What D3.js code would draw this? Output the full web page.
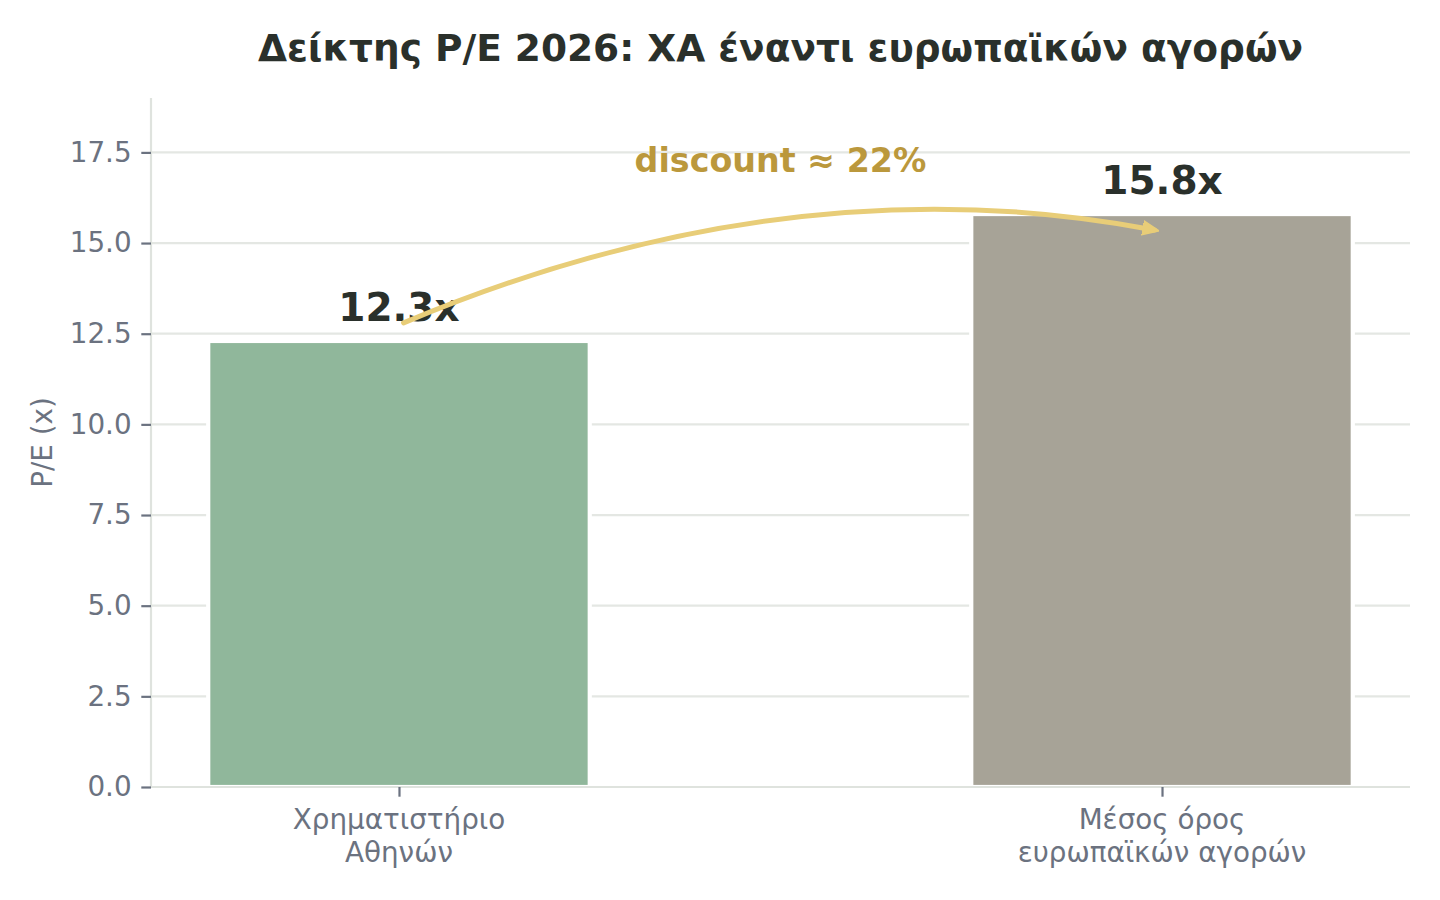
<!DOCTYPE html>
<meta charset="utf-8">
<style>
    body { margin: 0; background: #fff; }
    text { font-family: "DejaVu Sans", sans-serif; }
</style>
<svg width="1440" height="900"></svg>
<script src="https://cdn.jsdelivr.net/npm/d3@7"></script>
<script>

    // data
    var categories = ["Χρηματιστήριο\nΑθηνών", "Μέσος όρος\nευρωπαϊκών αγορών"];
    var peValues = [12.3, 15.8];
    var barColors = ["#90b79b", "#a7a397"];
    var yTicks = [0, 2.5, 5, 7.5, 10, 12.5, 15, 17.5];
    var titleText = "Δείκτης P/E 2026: ΧΑ έναντι ευρωπαϊκών αγορών";
    var yLabel = "P/E (x)";
    var discountText = "discount ≈ 22%";

    var svg = d3.select("svg"),
        plotLeft = 151, plotRight = 1410, plotTop = 98, plotBottom = 787;

    // category positions 0 and 1, bar width 0.5, matplotlib-like margins
    var x = d3.scaleLinear().domain([-0.325, 1.325]).range([plotLeft, plotRight]);
    var y = d3.scaleLinear().domain([0, 19]).range([plotBottom, plotTop]);

    var tickColor = "#6b7280", dark = "#2a302b";

    // grid
    svg.append("g").selectAll("line")
        .data(yTicks)
        .enter().append("line")
        .attr("x1", plotLeft).attr("x2", plotRight)
        .attr("y1", function(d) { return y(d); })
        .attr("y2", function(d) { return y(d); })
        .attr("stroke", "#e4e7e3")
        .attr("stroke-width", 2.2);

    // bars
    svg.append("g").selectAll("rect")
        .data(peValues)
        .enter().append("rect")
        .attr("x", function(d, i) { return x(i - 0.25); })
        .attr("width", x(0.5) - x(0))
        .attr("y", function(d) { return y(d); })
        .attr("height", function(d) { return y(0) - y(d); })
        .attr("fill", function(d, i) { return barColors[i]; })
        .attr("stroke", "#fff")
        .attr("stroke-width", 4.2);

    // spines
    svg.append("line").attr("x1", plotLeft).attr("x2", plotLeft).attr("y1", plotTop).attr("y2", plotBottom)
        .attr("stroke", "#dfe3de").attr("stroke-width", 2.2);
    svg.append("line").attr("x1", plotLeft).attr("x2", plotRight).attr("y1", plotBottom).attr("y2", plotBottom)
        .attr("stroke", "#dfe3de").attr("stroke-width", 2.2);

    // y axis
    var yAxis = d3.axisLeft(y).tickValues(yTicks).tickFormat(d3.format(".1f"))
        .tickSize(9.7).tickPadding(9.7);
    var gy = svg.append("g").attr("transform", "translate(" + plotLeft + ",0)").call(yAxis);
    gy.select(".domain").remove();
    gy.selectAll("line").attr("stroke", tickColor).attr("stroke-width", 2.2);
    gy.selectAll("text").attr("fill", tickColor)
        .style("font-size", "27.8px").attr("font-family", "DejaVu Sans");

    // x axis
    var xAxis = d3.axisBottom(x).tickValues([0, 1]).tickFormat("")
        .tickSize(9.7);
    var gx = svg.append("g").attr("transform", "translate(0," + plotBottom + ")").call(xAxis);
    gx.select(".domain").remove();
    gx.selectAll("line").attr("stroke", tickColor).attr("stroke-width", 2.2);

    svg.append("g").selectAll("text")
        .data(categories)
        .enter().append("text")
        .attr("text-anchor", "middle")
        .attr("fill", tickColor)
        .style("font-size", "27.8px")
        .each(function(d, i) {
            var t = d3.select(this);
            d.split("\n").forEach(function(line, k) {
                t.append("tspan").attr("x", x(i)).attr("y", 829 + k * 33.4).text(line);
            });
        });

    // y label
    svg.append("text")
        .attr("transform", "translate(52," + ((plotTop + plotBottom) / 2) + ") rotate(-90)")
        .attr("text-anchor", "middle")
        .attr("fill", tickColor)
        .style("font-size", "27.8px")
        .text(yLabel);

    // value labels
    svg.append("g").selectAll("text")
        .data(peValues)
        .enter().append("text")
        .attr("x", function(d, i) { return x(i); })
        .attr("y", function(d) { return y(d + 0.3) - 9; })
        .attr("text-anchor", "middle")
        .attr("fill", dark)
        .style("font-size", "39px").style("font-weight", "bold")
        .text(function(d) { return d3.format(".1f")(d) + "x"; });

    // curved arrow from left label to right bar (arc3-like quadratic)
    var p0 = [x(0.006), y(12.8)], p2 = [x(0.99), y(15.36)];
    var ctrl = [(p0[0] + p2[0]) / 2 + 12, (p0[1] + p2[1]) / 2 - 116];
    var arrowColor = "#e8cd78";
    svg.append("defs").append("marker")
        .attr("id", "head")
        .attr("viewBox", "0 0 10 10")
        .attr("refX", 7).attr("refY", 5)
        .attr("markerWidth", 3.4).attr("markerHeight", 3.4)
        .attr("markerUnits", "strokeWidth")
        .attr("orient", "auto")
        .append("path")
        .attr("d", "M0,0.8 L10,5 L0,9.2 Z")
        .attr("fill", arrowColor)
        .attr("stroke", arrowColor)
        .attr("stroke-width", 0.8)
        .attr("stroke-linejoin", "round");
    svg.append("path")
        .attr("d", "M" + p0 + " Q" + ctrl + " " + p2)
        .attr("fill", "none")
        .attr("stroke", arrowColor)
        .attr("stroke-width", 5)
        .attr("stroke-linecap", "round")
        .attr("marker-end", "url(#head)");

    svg.append("text")
        .attr("x", x(0.5)).attr("y", 172)
        .attr("text-anchor", "middle")
        .attr("fill", "#bb983c")
        .style("font-size", "33.3px").style("font-weight", "bold")
        .text(discountText);

    // title
    svg.append("text")
        .attr("x", (plotLeft + plotRight) / 2).attr("y", 61)
        .attr("text-anchor", "middle")
        .attr("fill", dark)
        .style("font-size", "37.5px").style("font-weight", "bold")
        .text(titleText);
</script>
